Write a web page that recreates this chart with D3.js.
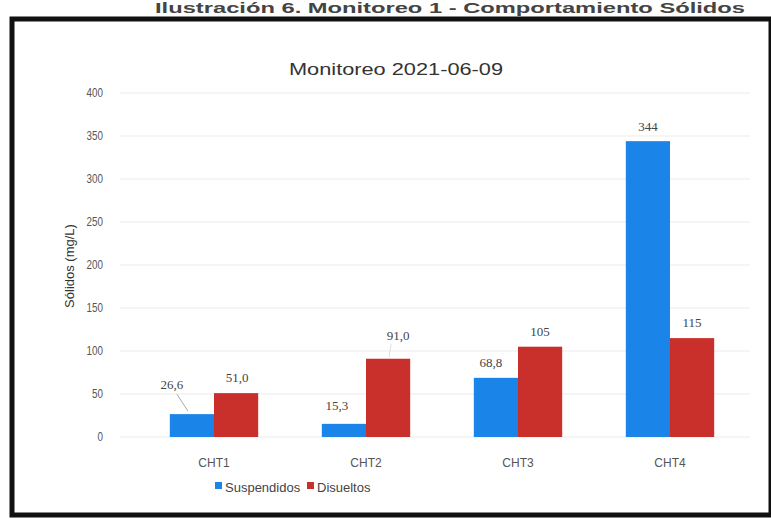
<!DOCTYPE html>
<html><head><meta charset="utf-8">
<script src="https://cdn.jsdelivr.net/npm/d3@7"></script>
<style>
html,body{margin:0;padding:0;background:#fff;}
svg{display:block;}
</style></head>
<body>
<svg id="c" width="771" height="519"></svg>
<script>
const categories = ["CHT1","CHT2","CHT3","CHT4"];
const seriesNames = ["Suspendidos","Disueltos"];
const suspendidos = [26.6, 15.3, 68.8, 344];
const disueltos = [51.0, 91.0, 105, 115];
const suspLabels = ["26,6","15,3","68,8","344"];
const disLabels = ["51,0","91,0","105","115"];
const yTicks = [0,50,100,150,200,250,300,350,400];
const colors = ["#1b84e8","#c9302b"];

const svg = d3.select("#c");
const font = "'Liberation Sans',Arial,sans-serif";

// top caption (partly hidden in the reference)
svg.append("text").attr("x",745).attr("y",13).attr("text-anchor","end")
  .attr("font-family",font).attr("font-weight","bold")
  .attr("font-size",15).attr("fill","#444")
  .attr("textLength",590).attr("lengthAdjust","spacingAndGlyphs")
  .text("Ilustración 6. Monitoreo 1 - Comportamiento Sólidos");

// frame
svg.append("rect").attr("x",12).attr("y",19).attr("width",759).attr("height",496)
  .attr("fill","#fff").attr("stroke","#111").attr("stroke-width",5);

const x0 = d3.scaleBand().domain(categories).range([138,746]).paddingInner(0).paddingOuter(0);
const x1 = d3.scaleBand().domain(seriesNames).range([0,x0.bandwidth()]).paddingInner(0).paddingOuter(0.72);
const y = d3.scaleLinear().domain([0,400]).range([437,93]);

// gridlines
svg.append("g").selectAll("line").data(yTicks).join("line")
  .attr("x1",120).attr("x2",750).attr("y1",d=>y(d)).attr("y2",d=>y(d))
  .attr("stroke","#ebebeb").attr("stroke-width",1);

// y axis labels
const yAxis = d3.axisLeft(y).tickValues(yTicks).tickSize(0).tickPadding(0).tickFormat(d3.format("d"));
const ya = svg.append("g").attr("transform","translate(103,0)").call(yAxis);
ya.select(".domain").remove();
ya.selectAll("text").attr("font-family",font).attr("font-size",12).attr("fill","#555")
  .attr("transform","scale(0.82,1)").attr("x",0);

// y title
svg.append("text").attr("transform","translate(74,266) rotate(-90)")
  .attr("text-anchor","middle").attr("font-family",font).attr("font-size",13).attr("fill","#333")
  .text("Sólidos (mg/L)");

// chart title
svg.append("text").attr("x",396).attr("y",75).attr("text-anchor","middle")
  .attr("font-family",font).attr("font-size",16).attr("fill","#333")
  .attr("textLength",214).attr("lengthAdjust","spacingAndGlyphs")
  .text("Monitoreo 2021-06-09");

// bars
const data = categories.map((c,i)=>({c, vals:[
  {s:seriesNames[0], v:suspendidos[i], l:suspLabels[i]},
  {s:seriesNames[1], v:disueltos[i], l:disLabels[i]}]}));
const g = svg.append("g").selectAll("g").data(data).join("g")
  .attr("transform",d=>`translate(${x0(d.c)},0)`);
g.selectAll("rect").data(d=>d.vals).join("rect")
  .attr("x",d=>x1(d.s)).attr("width",x1.bandwidth())
  .attr("y",d=>y(d.v)).attr("height",d=>y(0)-y(d.v))
  .attr("fill",(d,i)=>colors[i]);

// data labels
const labelOffsets = [
  [[-20,-25],[1,-11]],
  [[-7,-14],[10,-19]],
  [[-5,-11],[0,-11]],
  [[0,-10],[0,-11]]
];
g.each(function(d,ci){
  d3.select(this).selectAll("text.lbl").data(d.vals).join("text").attr("class","lbl")
    .attr("x",(v,si)=>x1(v.s)+x1.bandwidth()/2+labelOffsets[ci][si][0])
    .attr("y",(v,si)=>y(v.v)+labelOffsets[ci][si][1])
    .attr("text-anchor","middle").attr("font-family","'Liberation Serif','DejaVu Serif',serif")
    .attr("font-size",13).attr("fill","#444").text(v=>v.l);
});
// leader lines
const c1 = x0("CHT1")+x1("Suspendidos")+x1.bandwidth()/2;
svg.append("line")
  .attr("x1",c1-15).attr("y1",y(suspendidos[0])-20)
  .attr("x2",c1-4).attr("y2",y(suspendidos[0])-3)
  .attr("stroke","#aaa").attr("stroke-width",1);
const c2 = x0("CHT2")+x1("Disueltos")+x1.bandwidth()/2;
svg.append("line")
  .attr("x1",c2+3).attr("y1",y(disueltos[1])-15)
  .attr("x2",c2+1).attr("y2",y(disueltos[1])-2)
  .attr("stroke","#ddd").attr("stroke-width",1);

// x axis labels
const xa = svg.append("g").attr("transform","translate(0,456)")
  .call(d3.axisBottom(x0).tickSize(0).tickPadding(0));
xa.select(".domain").remove();
xa.selectAll("text").attr("font-family",font).attr("font-size",12).attr("fill","#555").attr("dy","0.9em");

// legend
const leg = svg.append("g").attr("transform","translate(215,487)");
const legX = [0,92];
seriesNames.forEach((s,i)=>{
  leg.append("rect").attr("x",legX[i]).attr("y",-5).attr("width",7).attr("height",7).attr("fill",colors[i]);
  leg.append("text").attr("x",legX[i]+10).attr("y",0).attr("dy","0.35em")
    .attr("font-family",font).attr("font-size",13).attr("fill","#444").text(s);
});
</script>
</body></html>
